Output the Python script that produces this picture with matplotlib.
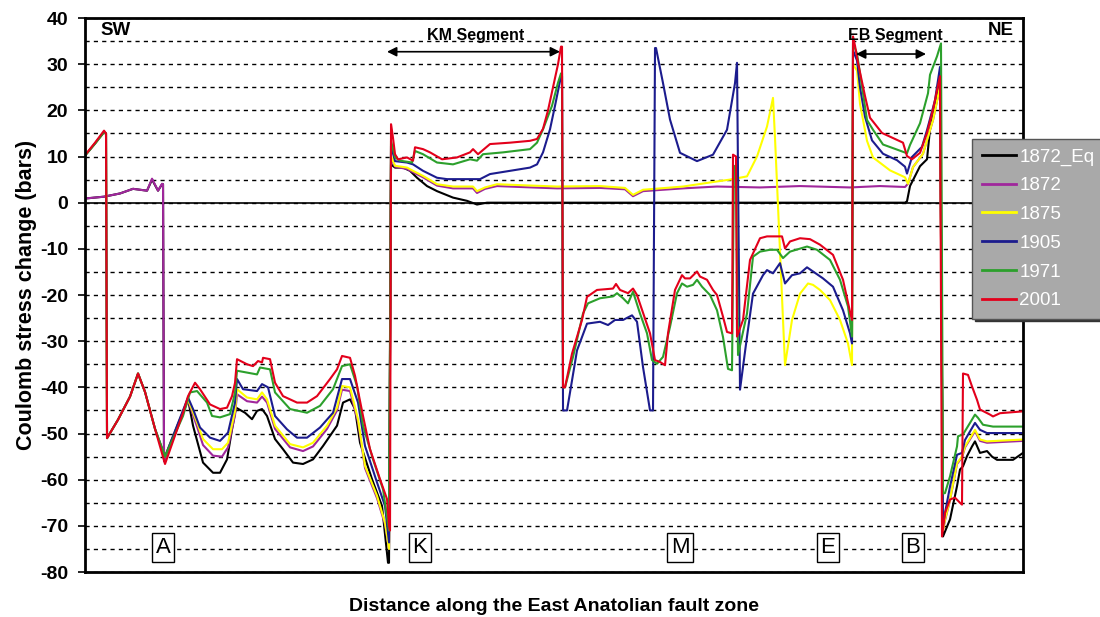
import matplotlib
matplotlib.use("Agg")
import matplotlib.pyplot as plt

plt.rcParams['font.family'] = ['Liberation Sans', 'DejaVu Sans']
plt.rcParams['axes.unicode_minus'] = False

# (distance along the fault, Coulomb stress change in bars)
eq_1872 = [(0, 0.9), (19, 1.3), (35, 2.0), (48, 3.0), (62, 2.6), (67, 5.0), (73, 2.6), (77, 4.0), (78, 4.0),
           (79, -56.0), (80, -55.0), (103, -42.6), (108, -48.3), (118, -56.3), (128, -58.5), (135, -58.5),
           (142, -55.6), (147, -49.1), (151, -44.4), (160, -45.5), (167, -46.9), (172, -45.1), (177, -44.7),
           (182, -46.2), (190, -51.2), (198, -53.4), (208, -56.3), (218, -56.6), (228, -55.6), (238, -52.7),
           (252, -48.3), (258, -43.3), (265, -42.6), (270, -44.7), (275, -52.0), (287, -59.9), (297, -65.7),
           (303, -78.0), (304, -78.0), (306, 8.3), (310, 7.6), (318, 7.6), (325, 6.9), (332, 5.4), (342, 3.6),
           (352, 2.5), (368, 1.1), (382, 0.4), (392, -0.4), (402, 0.0), (820, 0.0), (822, 0.3), (825, 3.6),
           (835, 7.9), (842, 9.4), (845, 15.9), (852, 22.4), (855, 26.5), (858, -72.3), (865, -68.6),
           (872, -61.4), (875, -57.8), (878, -57.1), (882, -54.9), (887, -52.8), (890, -51.7), (895, -54.2),
           (902, -53.8), (907, -55.0), (912, -55.7), (928, -55.7), (938, -54.2)]

eq_1872b = [(0, 0.9), (19, 1.3), (35, 2.0), (48, 3.0), (62, 2.6), (67, 5.2), (73, 2.6), (77, 4.1), (78, 4.0),
            (79, -56.0), (80, -55.5), (103, -42.8), (112, -48.5), (118, -52.5), (128, -54.8), (137, -55.0),
            (143, -53.0), (150, -46.0), (152, -41.5), (162, -43.0), (172, -43.3), (177, -42.0), (182, -43.3),
            (190, -49.0), (205, -53.0), (218, -53.8), (228, -52.8), (242, -49.0), (252, -45.0), (257, -40.5),
            (265, -40.8), (273, -47.5), (280, -57.5), (292, -64.0), (300, -69.7), (304, -75.0), (306, 9.5),
            (310, 7.8), (322, 7.3), (328, 6.6), (338, 5.5), (352, 3.7), (368, 3.1), (388, 3.1), (392, 2.1),
            (400, 3.0), (412, 3.6), (435, 3.4), (472, 3.1), (515, 3.2), (540, 2.9), (548, 1.4), (558, 2.5),
            (598, 3.1), (632, 3.5), (675, 3.3), (715, 3.6), (765, 3.3), (795, 3.6), (820, 3.4), (823, 4.1),
            (828, 7.7), (838, 10.6), (848, 17.9), (855, 25.1), (858, -71.0), (860, -68.8), (865, -64.5),
            (872, -56.6), (877, -55.2), (880, -53.0), (890, -49.5), (895, -51.6), (902, -52.0), (938, -51.6)]

eq_1875 = [(0, 10.2), (10, 12.8), (19, 15.2), (21, 15.0), (22, -51.0), (33, -47.0), (45, -42.0), (53, -37.0),
           (60, -41.0), (70, -49.0), (80, -55.0), (103, -42.6), (112, -47.6), (118, -51.2), (128, -53.4),
           (137, -53.4), (143, -52.0), (150, -45.1), (152, -40.4), (162, -42.2), (172, -42.6), (177, -41.1),
           (182, -42.6), (190, -48.3), (205, -52.3), (218, -53.0), (228, -52.0), (242, -48.3), (252, -44.4),
           (257, -39.7), (265, -40.0), (273, -46.9), (280, -57.0), (292, -63.5), (300, -69.3), (304, -75.0),
           (306, 10.1), (310, 8.0), (322, 7.6), (328, 6.9), (338, 5.8), (352, 4.0), (368, 3.5), (388, 3.5),
           (392, 2.5), (400, 3.3), (412, 4.0), (435, 3.8), (472, 3.5), (515, 3.6), (540, 3.2), (548, 1.7),
           (558, 2.8), (598, 3.5), (632, 4.6), (645, 5.0), (662, 5.7), (672, 10.0), (682, 16.5), (688, 22.7),
           (690, 14.0), (700, -35.2), (707, -25.4), (715, -19.7), (723, -17.5), (728, -17.8), (735, -18.9),
           (745, -21.1), (755, -25.4), (763, -30.5), (767, -35.2), (768, 30.0), (772, 28.6), (775, 21.4),
           (782, 13.4), (788, 9.8), (805, 7.0), (820, 5.5), (823, 4.1), (828, 7.7), (838, 10.6), (848, 17.9),
           (855, 25.1), (858, -71.0), (860, -68.6), (865, -64.3), (872, -56.4), (877, -55.0), (880, -52.8),
           (890, -49.2), (895, -51.3), (902, -51.7), (938, -51.3)]

eq_1905 = [(0, 10.2), (10, 12.8), (19, 15.3), (21, 15.0), (22, -51.0), (33, -47.0), (45, -42.0), (53, -37.0),
           (60, -41.0), (70, -49.0), (80, -55.0), (103, -42.2), (108, -44.7), (115, -48.7), (125, -50.9),
           (135, -51.6), (143, -49.8), (150, -43.3), (152, -38.2), (158, -40.4), (172, -40.8), (177, -39.3),
           (183, -40.0), (190, -46.2), (202, -49.1), (212, -50.9), (222, -50.9), (235, -48.7), (248, -45.5),
           (257, -38.2), (265, -38.2), (273, -43.3), (280, -52.7), (292, -60.6), (300, -65.7), (304, -73.6),
           (306, 12.3), (310, 9.0), (322, 8.7), (328, 8.3), (338, 6.9), (352, 5.4), (362, 5.1), (395, 5.1),
           (405, 6.2), (425, 6.9), (445, 7.6), (452, 8.3), (458, 10.9), (465, 15.9), (470, 21.0), (476, 27.4),
           (477, 27.4), (478, -45.0), (482, -45.0), (492, -32.0), (502, -26.2), (515, -25.8), (523, -26.5),
           (530, -25.4), (538, -25.4), (547, -24.4), (552, -25.8), (558, -35.6), (565, -45.0), (568, -45.0),
           (570, 33.5), (571, 33.5), (578, 25.9), (585, 18.0), (595, 10.8), (612, 9.0), (628, 10.4),
           (642, 15.8), (650, 25.9), (652, 30.3), (655, -40.5), (662, -29.0), (668, -19.7), (678, -15.7),
           (682, -14.6), (688, -15.3), (695, -13.1), (700, -17.5), (707, -15.7), (715, -15.3), (722, -14.0),
           (728, -14.9), (738, -16.4), (748, -18.2), (758, -23.3), (765, -28.3), (767, -30.5), (768, 33.0),
           (772, 30.8), (775, 25.0), (780, 18.6), (787, 13.5), (798, 10.6), (812, 9.2), (820, 7.8), (822, 6.3),
           (827, 9.9), (837, 12.1), (842, 15.7), (850, 22.2), (855, 29.4), (858, -70.0), (860, -67.2),
           (865, -61.5), (872, -54.6), (877, -54.2), (880, -51.4), (890, -47.7), (895, -49.2), (902, -49.9),
           (938, -49.9)]

eq_1971 = [(0, 10.2), (10, 12.8), (19, 15.3), (21, 15.0), (22, -51.0), (33, -47.0), (45, -42.0), (53, -37.0),
           (60, -41.0), (70, -49.0), (80, -55.0), (98, -46.2), (105, -41.1), (112, -40.8), (122, -43.3),
           (127, -46.2), (135, -46.5), (145, -45.8), (150, -41.1), (152, -36.4), (162, -36.8), (172, -37.2),
           (175, -35.7), (185, -36.1), (190, -41.1), (205, -44.7), (222, -45.5), (235, -44.0), (248, -40.4),
           (257, -35.4), (265, -35.0), (272, -39.7), (278, -48.3), (288, -55.6), (298, -62.1), (304, -71.0),
           (306, 13.4), (310, 9.8), (315, 9.1), (327, 8.7), (330, 11.2), (338, 10.5), (352, 8.7), (368, 8.3),
           (385, 9.4), (392, 9.1), (398, 10.5), (418, 10.9), (445, 11.6), (452, 13.0), (458, 15.9), (467, 21.0),
           (473, 26.0), (476, 28.0), (477, 28.0), (478, -40.0), (480, -40.0), (488, -33.4), (498, -24.0),
           (503, -21.8), (515, -20.7), (528, -20.3), (532, -19.6), (538, -20.7), (543, -21.8), (548, -19.3),
           (555, -24.0), (562, -28.3), (567, -34.1), (572, -34.9), (578, -33.4), (585, -26.9), (592, -19.6),
           (597, -17.5), (602, -18.2), (608, -17.8), (612, -16.7), (617, -18.2), (625, -20.0), (632, -23.3),
           (638, -29.1), (643, -36.0), (647, -36.3), (649, 8.0), (651, 7.0), (653, -33.0), (662, -24.0),
           (668, -11.7), (675, -10.6), (685, -10.2), (692, -10.2), (698, -12.0), (705, -10.6), (722, -9.5),
           (732, -10.2), (745, -12.4), (755, -16.7), (763, -22.5), (767, -29.0), (768, 34.5), (772, 32.3),
           (775, 28.0), (782, 17.9), (788, 15.8), (798, 12.6), (812, 11.5), (822, 10.7), (825, 12.5),
           (835, 17.2), (843, 23.7), (845, 27.7), (852, 31.7), (856, 34.5), (858, -63.0), (860, -62.9),
           (865, -59.3), (872, -52.8), (873, -50.6), (878, -50.2), (885, -47.7), (890, -45.9), (893, -46.6),
           (898, -48.1), (908, -48.5), (938, -48.5)]

eq_2001 = [(0, 10.3), (10, 13.0), (19, 15.6), (21, 15.0), (22, -51.0), (33, -47.0), (45, -42.0), (53, -37.0),
           (60, -41.0), (70, -49.0), (80, -56.6), (98, -45.5), (103, -41.9), (110, -39.0), (115, -40.4),
           (125, -43.7), (135, -44.7), (142, -44.4), (147, -41.9), (150, -39.0), (152, -33.9), (162, -35.0),
           (168, -35.4), (173, -34.3), (177, -34.6), (178, -33.6), (185, -33.9), (190, -39.0), (198, -41.9),
           (212, -43.3), (222, -43.3), (232, -41.9), (245, -38.2), (252, -36.1), (257, -33.2), (265, -33.6),
           (270, -37.5), (278, -46.2), (285, -53.4), (295, -59.9), (302, -64.2), (304, -70.0), (305, -71.0),
           (306, 17.0), (308, 14.0), (310, 10.5), (313, 9.4), (322, 9.8), (328, 9.1), (330, 12.0), (338, 11.6),
           (345, 10.9), (357, 9.4), (372, 9.8), (385, 10.9), (388, 11.6), (393, 10.5), (405, 12.7), (425, 13.0),
           (445, 13.4), (452, 13.8), (458, 16.0), (463, 20.0), (468, 25.0), (473, 30.0), (476, 33.8),
           (477, 33.8), (478, -40.0), (480, -40.0), (487, -32.7), (497, -25.4), (502, -20.4), (512, -18.9),
           (528, -18.6), (531, -17.6), (535, -18.9), (543, -19.6), (548, -18.6), (552, -20.0), (565, -28.3),
           (570, -34.1), (575, -34.5), (580, -35.2), (583, -28.3), (590, -18.9), (597, -15.7), (600, -16.4),
           (605, -16.4), (612, -14.9), (615, -16.0), (622, -16.7), (628, -18.9), (632, -20.0), (638, -24.7),
           (642, -28.0), (647, -28.3), (648, 10.4), (651, 10.0), (652, -29.0), (658, -25.4), (665, -12.4),
           (675, -7.7), (682, -7.3), (697, -7.3), (700, -9.9), (705, -8.4), (715, -7.7), (725, -7.9),
           (735, -9.1), (748, -11.3), (758, -16.7), (765, -23.6), (767, -25.4), (768, 36.0), (770, 34.0),
           (773, 30.3), (780, 23.1), (785, 18.4), (797, 15.1), (808, 14.0), (818, 13.0), (822, 10.1),
           (827, 9.4), (835, 10.8), (842, 15.1), (848, 20.2), (855, 27.4), (857, -72.3), (860, -67.2),
           (865, -64.3), (870, -63.9), (875, -65.0), (877, -65.4), (878, -37.0), (883, -37.3), (887, -39.8),
           (892, -42.7), (895, -44.8), (905, -45.9), (908, -46.3), (915, -45.6), (938, -45.2)]

labels = ["1872_Eq", "1872", "1875", "1905", "1971", "2001"]
colors = ["#000000", "#a0279c", "#ffff00", "#1c1c8e", "#2ca02c", "#e3001b"]
all_series = [eq_1872, eq_1872b, eq_1875, eq_1905, eq_1971, eq_2001]

# boxed site letters along the fault
site_names = ["A", "K", "M", "E", "B"]
site_pos = [78, 335, 595, 743, 828]

fig = plt.figure(figsize=(11, 6.17), dpi=100)
ax = fig.add_axes([0.0773, 0.0729, 0.8527, 0.8979])

ax.set_xlim(0, 938)
ax.set_ylim(-80, 40)
ax.set_yticks(range(-80, 41, 10))
ax.set_yticks(range(-75, 40, 5), minor=True)
ax.set_xticks([])
ax.yaxis.grid(True, which='both', color='black', linestyle=(0, (3, 3)), linewidth=1.0)
ax.set_axisbelow(True)
ax.tick_params(axis='y', which='major', direction='out', length=5, width=1.2, labelsize=14, pad=7)
ax.tick_params(axis='y', which='minor', length=0)
for lab in ax.get_yticklabels():
    lab.set_fontweight('bold')
for sp in ax.spines.values():
    sp.set_linewidth(2)

ax.axhline(0, color='black', lw=1.2, zorder=1.5)

handles = []
for data, lab, col in zip(all_series, labels, colors):
    xs = [p[0] for p in data]
    ys = [p[1] for p in data]
    h, = ax.plot(xs, ys, color=col, lw=1.5, label=lab, zorder=2)
    handles.append(h)

ax.set_ylabel("Coulomb stress change (bars)", fontsize=15.5, fontweight='bold', labelpad=2)
ax.set_xlabel("Distance along the East Anatolian fault zone", fontsize=14, fontweight='bold', labelpad=19)

ax.text(15, 37.3, "SW", fontsize=13.5, fontweight='bold', va='center')
ax.text(903, 37.3, "NE", fontsize=13.5, fontweight='bold', va='center')
ax.text(391, 36.3, "KM Segment", fontsize=11.5, fontweight='bold', ha='center', va='center')
ax.text(810, 36.3, "EB Segment", fontsize=11.5, fontweight='bold', ha='center', va='center')
arrow = dict(arrowstyle='<|-|>', color='black', lw=1.2, mutation_scale=14, shrinkA=0, shrinkB=0)
ax.annotate('', xy=(475, 32.7), xytext=(302, 32.7), arrowprops=arrow)
ax.annotate('', xy=(841, 32.2), xytext=(771, 32.2), arrowprops=arrow)

for name, pos in zip(site_names, site_pos):
    ax.text(pos, -74.6, name, fontsize=16, ha='center', va='center', zorder=5,
            bbox=dict(boxstyle='square,pad=0.18', fc='white', ec='black', lw=1))

leg = fig.legend(handles, labels, loc='upper left', bbox_to_anchor=(0.884, 0.775),
                 fontsize=13.5, labelcolor='white', facecolor='#a9a9a9', edgecolor='#555555',
                 framealpha=1, fancybox=False, handlelength=1.8, handletextpad=0.2,
                 labelspacing=0.62, borderpad=0.5, borderaxespad=0,
                 shadow={'color': '#333333', 'alpha': 1})
for line in leg.get_lines():
    line.set_linewidth(2)

fig.savefig("out.png", dpi=100)
